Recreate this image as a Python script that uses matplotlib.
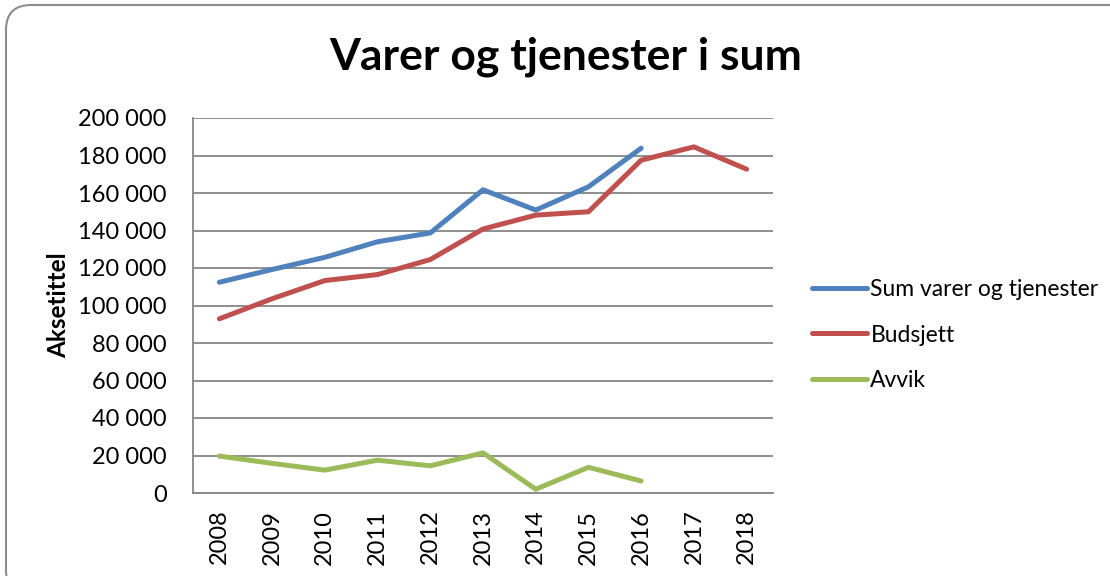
import matplotlib
matplotlib.use("Agg")
import matplotlib.pyplot as plt
from matplotlib.patches import FancyBboxPatch
from matplotlib.transforms import IdentityTransform
from matplotlib.ticker import FuncFormatter, MultipleLocator

# data
years = ["2008", "2009", "2010", "2011", "2012", "2013", "2014", "2015", "2016", "2017", "2018"]
sum_varer = [112400, 119200, 125700, 134000, 138700, 161700, 150900, 163300, 183900]
budsjett = [92900, 103600, 113300, 116500, 124500, 140800, 148200, 150000, 177500, 184600, 172700]
avvik = [19700, 15800, 12200, 17500, 14500, 21400, 2000, 13700, 6400]

plt.rcParams['font.family'] = ['Lato', 'DejaVu Sans']

fig = plt.figure(figsize=(11.1, 5.76), dpi=100)
ax = fig.add_axes([193/1110, 83/576, 580/1110, 375/576])

lw = 3.6
ax.plot(range(len(sum_varer)), sum_varer, color='#4F81BD', lw=lw, label='Sum varer og tjenester',
        solid_capstyle='round', solid_joinstyle='round')
ax.plot(range(len(budsjett)), budsjett, color='#C0504D', lw=lw, label='Budsjett',
        solid_capstyle='round', solid_joinstyle='round')
ax.plot(range(len(avvik)), avvik, color='#9BBB59', lw=lw, label='Avvik',
        solid_capstyle='round', solid_joinstyle='round')

ax.set_xlim(-0.5, len(years) - 0.5)
ax.set_ylim(0, 200000)
ax.yaxis.set_major_locator(MultipleLocator(20000))
ax.yaxis.set_major_formatter(FuncFormatter(lambda v, p: f"{v:,.0f}".replace(",", " ")))
ax.set_xticks(range(len(years)))
ax.set_xticklabels(years, rotation=90)
ax.tick_params(axis='y', length=0, pad=19, labelsize=17)
ax.tick_params(axis='x', length=0, pad=12, labelsize=17)

ax.grid(axis='y', color='#868686', lw=1.3)
ax.set_axisbelow(True)
for s in ['top', 'right']:
    ax.spines[s].set_visible(False)
for s in ['left', 'bottom']:
    ax.spines[s].set_color('#868686')
    ax.spines[s].set_linewidth(1.3)

ax.set_ylabel('Aksetittel', fontsize=17.5, fontweight='bold')
ax.yaxis.set_label_coords(-0.212, 0.5)

fig.text(566/1110, 1 - 57/576, 'Varer og tjenester i sum', ha='center', va='center',
         fontsize=32, fontweight='bold')

ax.legend(loc='center left', bbox_to_anchor=(812/1110, 1 - 335/576), bbox_transform=fig.transFigure,
          frameon=False, fontsize=16.5, handlelength=2.4, handletextpad=0.15, labelspacing=1.05,
          borderpad=0, borderaxespad=0)

# rounded chart border, cut off at the right and bottom like the original
fig.patches.append(FancyBboxPatch((6, -19), 1129, 590, boxstyle='round,pad=0,rounding_size=25',
                                  transform=IdentityTransform(), fill=False, ec='#8c8c8c', lw=1.5))

plt.savefig("out.png", dpi=100)
